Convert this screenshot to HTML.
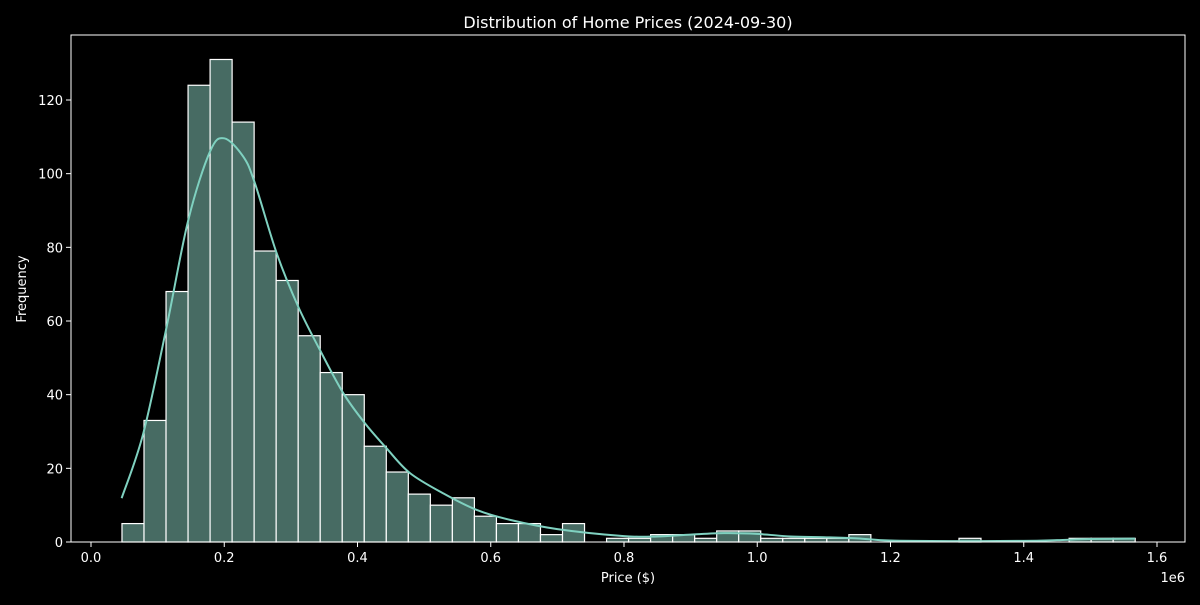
<!DOCTYPE html>
<html><head><meta charset="utf-8"><style>
body{margin:0;background:#000;}
svg text{font-family:"DejaVu Sans","Liberation Sans",sans-serif;fill:#fff;}
</style></head><body>
<svg id="chart" width="1200" height="600" xmlns="http://www.w3.org/2000/svg">
<rect width="1200" height="600" fill="#000"/>
<text x="628" y="28" font-size="16" text-anchor="middle">Distribution of Home Prices (2024-09-30)</text>
<text x="628" y="582" font-size="13" text-anchor="middle">Price ($)</text>
<text transform="translate(26,289) rotate(-90)" font-size="13" text-anchor="middle">Frequency</text>
<text x="1185" y="582" font-size="13" text-anchor="end">1e6</text>
<g id="bars"></g><g id="kde"></g><g id="axes"></g>
</svg>
<script>
const binStart = 0.0465;
const binWidth = 0.03306;
const counts = [5,33,68,124,131,114,79,71,56,46,40,26,19,13,10,12,7,5,5,2,5,0,1,1,2,2,1,3,3,1,1,1,1,2,0,0,0,0,1,0,0,0,0,1,1,1];
const kdeX = [0.046,0.0785,0.1136,0.146,0.1786,0.2,0.2286,0.246,0.2787,0.311,0.3437,0.3787,0.4113,0.4438,0.4788,0.5288,0.579,0.629,0.7,0.8,0.85,0.9,0.95,1.0,1.05,1.1,1.15,1.2,1.3,1.4,1.45,1.5,1.567];
const kdeY = [11.9,29.5,58.5,87.4,106,109.6,104.6,97.4,78.4,63.9,52.1,40.4,32.2,25.4,18.7,13.2,8.7,6.0,3.5,1.6,1.5,2.0,2.4,2.2,1.5,1.3,1.0,0.4,0.25,0.3,0.5,0.8,0.9];
const xTicks = [0,0.2,0.4,0.6,0.8,1.0,1.2,1.4,1.6];
const xTickLabels = ["0.0","0.2","0.4","0.6","0.8","1.0","1.2","1.4","1.6"];
const yTicks = [0,20,40,60,80,100,120];

const L=71,R=1185,T=35,B=542;
const sx=v=>91+v*666.25;
const sy=v=>B-v*(442/120);
const NS="http://www.w3.org/2000/svg";
function mk(tag,attrs,parent){const e=document.createElementNS(NS,tag);for(const k in attrs)e.setAttribute(k,attrs[k]);parent.appendChild(e);return e;}
const bars=document.getElementById('bars');
counts.forEach((c,i)=>{
  if(c<=0)return;
  const x0=sx(binStart+i*binWidth),x1=sx(binStart+(i+1)*binWidth);
  const r=mk('rect',{x:x0,y:sy(c),width:x1-x0,height:B-sy(c),fill:'#476b63',stroke:'#fff','stroke-width':1.2},bars);
  
  
});
const kde=document.getElementById('kde');
const pts=kdeX.map((x,i)=>[sx(x),sy(kdeY[i])]);
let d='M'+pts[0][0]+','+pts[0][1];
for(let i=0;i<pts.length-1;i++){
  const p0=pts[Math.max(0,i-1)],p1=pts[i],p2=pts[i+1],p3=pts[Math.min(pts.length-1,i+2)];
  const c1=[p1[0]+(p2[0]-p0[0])/6,p1[1]+(p2[1]-p0[1])/6];
  const c2=[p2[0]-(p3[0]-p1[0])/6,p2[1]-(p3[1]-p1[1])/6];
  d+=` C${c1[0]},${c1[1]} ${c2[0]},${c2[1]} ${p2[0]},${p2[1]}`;
}
const kp=mk('path',{d:d,fill:'none',stroke:'#7fd1c0','stroke-width':2},kde);


const axes=document.getElementById('axes');
const frame=mk('rect',{x:L,y:T,width:R-L,height:B-T,fill:'none',stroke:'#fff','stroke-width':1},axes);


xTicks.forEach((v,i)=>{
  const x=sx(v);
  const t=mk('line',{x1:x,x2:x,y1:B,y2:B+5,stroke:'#fff'},axes);
  
  
  const l=mk('text',{x:x,y:B+20,'font-size':13,'text-anchor':'middle'},axes);
  l.textContent=xTickLabels[i];
  
  
});
yTicks.forEach(v=>{
  const y=sy(v);
  const t=mk('line',{x1:L-5,x2:L,y1:y,y2:y,stroke:'#fff'},axes);
  
  
  const l=mk('text',{x:L-8,y:y+5,'font-size':13,'text-anchor':'end'},axes);
  l.textContent=String(v);
  
  
});
</script>
</body></html>
